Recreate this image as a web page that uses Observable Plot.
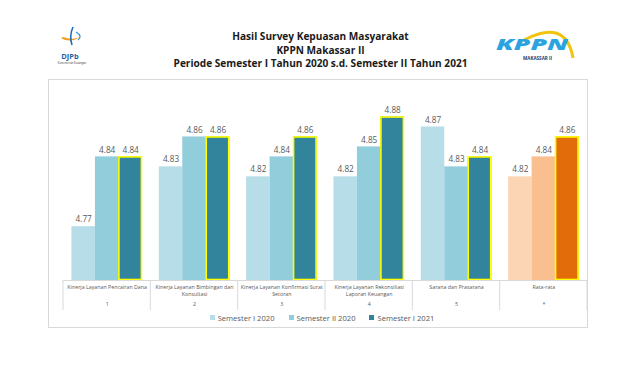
<!DOCTYPE html>
<html><head><meta charset="utf-8">
<script src="https://cdn.jsdelivr.net/npm/d3@7"></script>
<script src="https://cdn.jsdelivr.net/npm/@observablehq/plot@0.6"></script>
<style>
body{margin:0;background:#fff;font-family:"Open Sans",sans-serif;}
#page{position:relative;width:624px;height:365px;overflow:hidden;background:#fff}
#title{position:absolute;left:0;width:641px;top:30px;text-align:center;font-weight:700;font-size:10.1px;line-height:13.5px;color:#1a1a1a}
#card{position:absolute;left:48px;top:79px;width:540px;height:249px;border:1px solid #d9d9d9;box-sizing:border-box}
#chart{position:absolute;left:0;top:79px}
#legend{position:absolute;left:0;width:644px;top:313px;text-align:center;font-size:7.6px;color:#595959;white-space:nowrap}
#legend span.item{display:inline-block;margin:0 7px}
#legend span.sw{display:inline-block;width:5px;height:5px;margin-right:3px;vertical-align:1px}
#logos{position:absolute;left:0;top:0}
</style></head>
<body><div id="page">
<svg id="logos" width="624" height="80">
  <path d="M61,38 Q70,44 82,36 Q74,41 63,37 Z" fill="#f39c1f"/>
  <path d="M73,27 Q69,36 72,45" stroke="#1f6fb8" stroke-width="1.6" fill="none"/>
  <path d="M76,32 Q83,36 78,40" stroke="#2a8fd6" stroke-width="1.2" fill="none"/>
  <text x="70" y="59" text-anchor="middle" font-family="Open Sans" font-weight="700" font-size="7.5" fill="#1f5fa8">DJPb</text>
  <text x="72" y="64" text-anchor="middle" font-family="Open Sans" font-size="2.6" fill="#333">Kementerian Keuangan</text>
  <path d="M524,40 Q566,18 573,58" stroke="#f2c40f" stroke-width="3" fill="none"/>
  <text x="496" y="50" font-family="Open Sans" font-weight="800" font-style="italic" font-size="16" fill="#2aa3e0" textLength="72" lengthAdjust="spacingAndGlyphs">KPPN</text>
  <text x="523" y="60" font-family="Open Sans" font-weight="700" font-size="4.4" fill="#2b3a67" textLength="29" lengthAdjust="spacingAndGlyphs">MAKASSAR II</text>
</svg>
<div id="title">Hasil Survey Kepuasan Masyarakat<br>KPPN Makassar II<br>Periode Semester I Tahun 2020 s.d. Semester II Tahun 2021</div>
<div id="card"></div>
<div id="chart"></div>
<div id="legend"></div>
</div>
<script>
const categories = ["Kinerja Layanan Pencairan Dana","Kinerja Layanan Bimbingan dan\nKonsultasi","Kinerja Layanan Konfirmasi Surat\nSetoran","Kinerja Layanan Rekonsiliasi\nLaporan Keuangan","Sarana dan Prasarana","Rata-rata"];
const categoryNumbers = ["1","2","3","4","5","*"];
const series = ["Semester I 2020","Semester II 2020","Semester I 2021"];
const sem1_2020 = [4.77,4.83,4.82,4.82,4.87,4.82];
const sem2_2020 = [4.84,4.86,4.84,4.85,4.83,4.84];
const sem1_2021 = [4.84,4.86,4.86,4.88,4.84,4.86];
const colorKeys = ["a0","a1","a2","o0","o1","o2"];
const colorRange = ["#b7dde8","#92cddc","#31849b","#fcd5b4","#fabf8f","#e26b0a"];

const seriesValues = [sem1_2020, sem2_2020, sem1_2021];
const data = [];
categories.forEach((c,i)=>{
  seriesValues.forEach((vals,s)=>{
    data.push({cat:c, series:series[s], s, value:vals[i], key:(i===categories.length-1?"o":"a")+s});
  });
});
const labelData = categories.map((c,i)=>({cat:c, num:categoryNumbers[i]}));

const plot = Plot.plot({
  width: 624, height: 240,
  marginLeft: 63, marginRight: 37, marginTop: 10, marginBottom: 39,
  style: {fontFamily: "Open Sans", background: "transparent", overflow: "visible"},
  fx: {domain: categories, padding: 0, axis: null, round: false},
  x: {domain: series, paddingInner: 0, paddingOuter: 0.36, axis: null, round: false},
  y: {domain: [4.716, 4.9076], axis: null},
  color: {domain: colorKeys, range: colorRange},
  marks: [
    Plot.barY(data, {fx: "cat", x: "series", y1: 4.716, y2: "value", fill: "key", inset: 0}),
    Plot.barY(data.filter(d=>d.s===2), {fx: "cat", x: "series", y1: 4.716, y2: "value", fill: "key", inset: 0.5, stroke: "#ffff00", strokeWidth: 1.6}),
    Plot.text(data, {fx: "cat", x: "series", y: "value", text: d=>d.value.toFixed(2), dy: -7, fontSize: 8.2, fill: "#595959"}),
    Plot.ruleY([4.716], {stroke: "#d9d9d9", strokeWidth: 1}),
    Plot.text(labelData, {fx: "cat", frameAnchor: "bottom", text: "cat", lineAnchor: "top", dy: 4, fontSize: 5.3, lineHeight: 1.3, fill: "#595959"}),
    Plot.text(labelData, {fx: "cat", frameAnchor: "bottom", text: "num", lineAnchor: "top", dy: 22, fontSize: 5.3, fill: "#595959"})
  ]
});
document.getElementById("chart").appendChild(plot);

// table separators at facet boundaries, from the fx scale
const fx = plot.scale("fx");
const yS = plot.scale("y");
const base = yS.apply(4.716);
const svg = d3.select(plot.tagName.toLowerCase()==="svg" ? plot : plot.querySelector("svg"));
const bw = fx.bandwidth;
const edges = categories.map(c=>fx.apply(c)).concat([fx.apply(categories[categories.length-1])+bw]);
svg.append("g").selectAll("line").data(edges).join("line")
  .attr("x1", d=>d).attr("x2", d=>d).attr("y1", base).attr("y2", base+30)
  .attr("stroke", "#d9d9d9").attr("stroke-width", 1);

// legend
const color = plot.scale("color");
const leg = d3.select("#legend");
series.forEach((s,i)=>{
  const it = leg.append("span").attr("class","item");
  it.append("span").attr("class","sw").style("background", color.apply("a"+i));
  it.append("span").text(s);
});
</script>
</body></html>
